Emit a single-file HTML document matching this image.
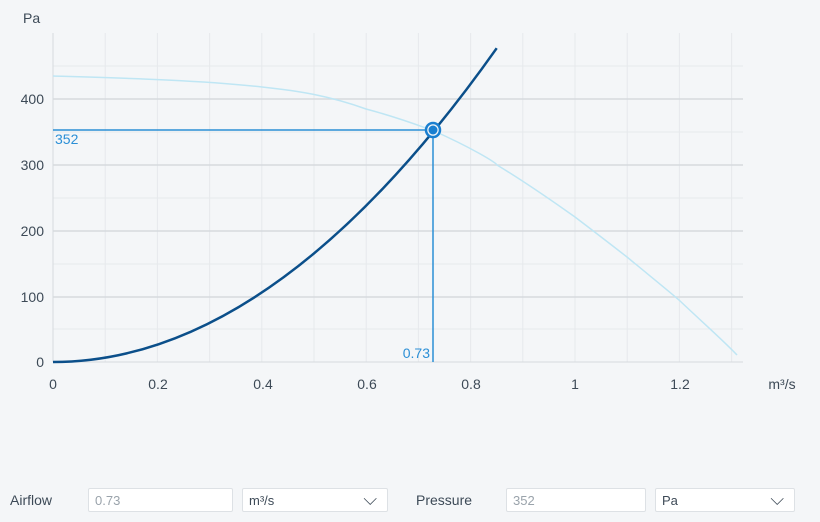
<!DOCTYPE html><html><head><style>
body{margin:0;width:820px;height:522px;background:#f4f6f8;font-family:"Liberation Sans",sans-serif;position:relative;overflow:hidden}
.l{position:absolute;font-size:14px;color:#3d4a57}
.in{position:absolute;top:488px;height:24px;background:#fff;border:1px solid #dde1e5;border-radius:2px;box-sizing:border-box;font-size:13px;color:#9aa3ab;padding:4px 6px}
.sel{color:#3d4a57}
</style></head><body>
<svg width="820" height="470" style="position:absolute;left:0;top:0" font-family="Liberation Sans" font-size="14" fill="#3d4a57">
<g stroke="#e6e9ec" stroke-width="1">
<line x1="105.2" y1="33" x2="105.2" y2="362"/><line x1="157.4" y1="33" x2="157.4" y2="362"/><line x1="209.6" y1="33" x2="209.6" y2="362"/><line x1="261.8" y1="33" x2="261.8" y2="362"/><line x1="314" y1="33" x2="314" y2="362"/><line x1="366.2" y1="33" x2="366.2" y2="362"/><line x1="418.4" y1="33" x2="418.4" y2="362"/><line x1="470.6" y1="33" x2="470.6" y2="362"/><line x1="522.8" y1="33" x2="522.8" y2="362"/><line x1="575" y1="33" x2="575" y2="362"/><line x1="627.2" y1="33" x2="627.2" y2="362"/><line x1="679.4" y1="33" x2="679.4" y2="362"/><line x1="731.6" y1="33" x2="731.6" y2="362"/>
<line x1="53" y1="329" x2="743" y2="329"/><line x1="53" y1="264" x2="743" y2="264"/><line x1="53" y1="198" x2="743" y2="198"/><line x1="53" y1="132" x2="743" y2="132"/><line x1="53" y1="66" x2="743" y2="66"/>
</g>
<g stroke="#d6dade" stroke-width="1.5">
<line x1="53" y1="297" x2="743" y2="297"/><line x1="53" y1="231" x2="743" y2="231"/><line x1="53" y1="165" x2="743" y2="165"/><line x1="53" y1="99" x2="743" y2="99"/>
</g>
<line x1="53" y1="33" x2="53" y2="362" stroke="#d6dade"/>
<line x1="53" y1="362" x2="743" y2="362" stroke="#d6dade"/>
<text x="23" y="23">Pa</text>
<g text-anchor="end"><text x="44" y="367">0</text><text x="44" y="302">100</text><text x="44" y="236">200</text><text x="44" y="170">300</text><text x="44" y="104">400</text></g>
<g text-anchor="middle"><text x="53" y="389">0</text><text x="158" y="389">0.2</text><text x="263" y="389">0.4</text><text x="367" y="389">0.6</text><text x="471" y="389">0.8</text><text x="575" y="389">1</text><text x="680" y="389">1.2</text><text x="782" y="389">m³/s</text></g>
<path d="M53,76 C120,78 200,80 262,87 C300,91 330,96 366,109 C400,118 420,126 434,131 C470,147 497,163 497,165 C530,185 555,203 575,217 C600,236 627,257 627,257 C650,276 665,288 679,300 C700,320 725,342 737,355" fill="none" stroke="#bfe6f4" stroke-width="1.5"/>
<path d="M53,362 Q274.85,362 496.7,48.2" fill="none" stroke="#0b4f8a" stroke-width="2.5"/>
<line x1="53" y1="130" x2="433" y2="130" stroke="#2b8fd6" stroke-width="1.5"/>
<line x1="433" y1="130" x2="433" y2="362" stroke="#2b8fd6" stroke-width="1.5"/>
<circle cx="433" cy="130" r="7" fill="#f4f6f8" stroke="#1a7fd0" stroke-width="2.5"/>
<circle cx="433" cy="130" r="4.5" fill="#1a7fd0"/>
<text x="55" y="144" fill="#2b8fd6">352</text>
<text x="430" y="358" fill="#2b8fd6" text-anchor="end">0.73</text>
</svg>
<div class="l" style="left:10px;top:492px">Airflow</div>
<div class="in" style="left:88px;width:145px">0.73</div>
<div class="in sel" style="left:242px;width:146px">m³/s<span style="position:absolute;right:10px;top:0px;font-size:18px">⌵</span></div>
<div class="l" style="left:416px;top:492px">Pressure</div>
<div class="in" style="left:506px;width:140px">352</div>
<div class="in sel" style="left:655px;width:140px">Pa<span style="position:absolute;right:10px;top:0px;font-size:18px">⌵</span></div>
</body></html>
